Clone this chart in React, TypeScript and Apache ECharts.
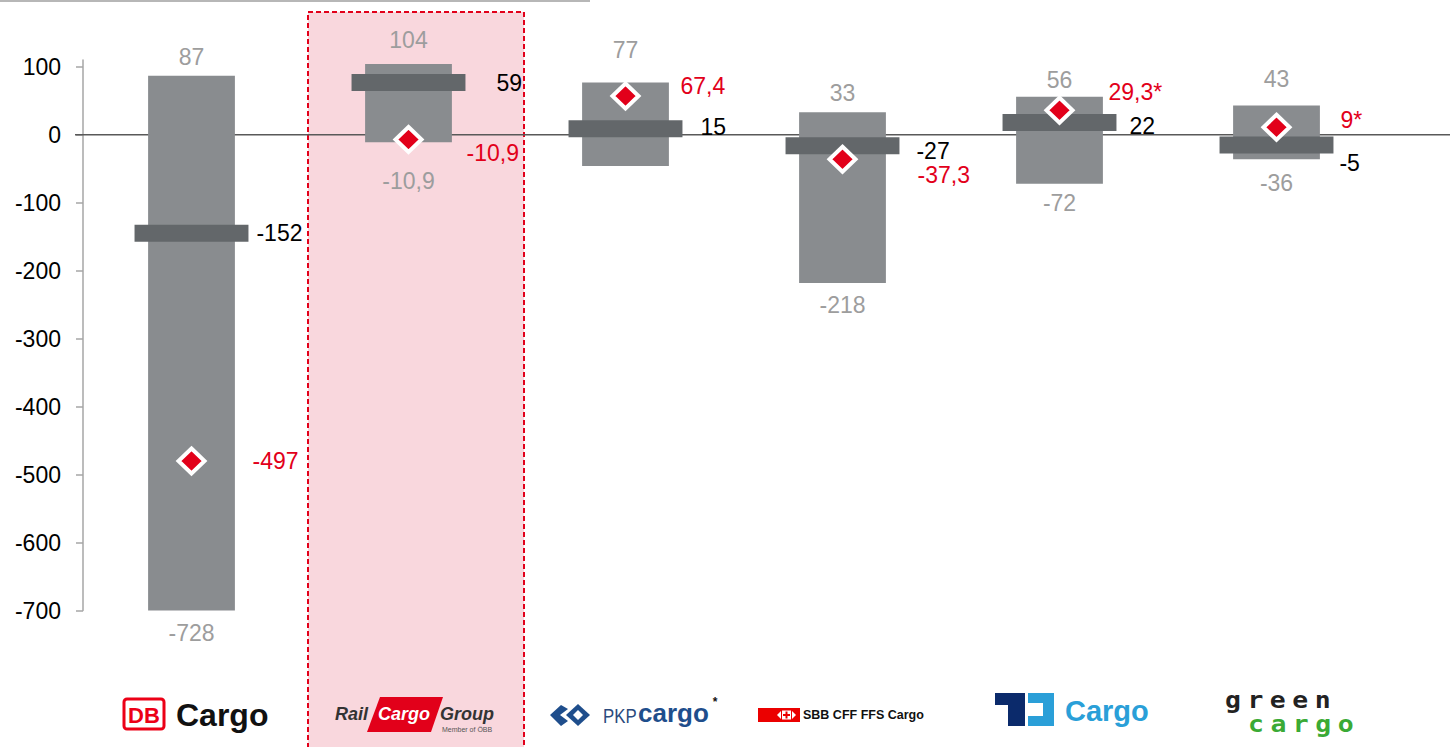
import React, { useEffect, useRef } from 'react';
import * as echarts from 'echarts';

// ---------- data ----------
const categories = ['DB Cargo', 'Rail Cargo Group', 'PKP Cargo', 'SBB CFF FFS Cargo', 'ČD Cargo', 'Green Cargo'];
const rangeHigh = [87, 104, 77, 33, 56, 43];
const rangeLow = [-728, -10.9, -46, -218, -72, -36];
const rangeHighLabels = ['87', '104', '77', '33', '56', '43'];
const rangeLowLabels = ['-728', '-10,9', '', '-218', '-72', '-36'];
const meanValues = [-145, 77, 9, -16, 18, -15];
const meanLabels = ['-152', '59', '15', '-27', '22', '-5'];
const markerValues = [-480, -7, 57, -36, 36, 11];
const markerLabels = ['-497', '-10,9', '67,4', '-37,3', '29,3*', '9*'];
const yTicks = [-700, -600, -500, -400, -300, -200, -100, 0, 100];

// ---------- label layout (pixel nudges) ----------
const highGap = [19, 24, 32, 19, 17, 27];
const lowGap = [22, 39, 0, 22, 19, 24];
const meanDx = [8, 31, 18, 17, 13, 6];
const meanDy = [0, 1, -2, 5, 3, 18];
const markerDx = [61, 58, 55, 75, 49, 64];
const markerDy = [0, 13, -10, 16, -18, -7];

const FONT = '"Liberation Sans", Arial, sans-serif';
const BAR = '#898c8f';
const MEAN = '#63676a';
const GREY_TXT = '#9d9d9d';
const RED = '#e2001a';
const Y_MIN = yTicks[0];
const Y_MAX = 110;

function txt(text: string, x: number, y: number, fill: string, size: number, align = 'center', weight = 'normal', style = 'normal', family = FONT) {
  return {
    type: 'text',
    x,
    y,
    style: {
      text,
      fill,
      fontSize: size,
      fontFamily: family,
      fontWeight: weight,
      fontStyle: style,
      align,
      textAlign: align,
      verticalAlign: 'middle',
      textVerticalAlign: 'middle',
    },
  };
}

function logos(): any[] {
  const els: any[] = [];
  // DB Cargo
  els.push({ type: 'rect', z: 1, shape: { x: 124, y: 699, width: 40, height: 30, r: 3 }, style: { fill: '#fff', stroke: '#ec0016', lineWidth: 3 } });
  els.push({ ...txt('DB', 144, 715, '#ec0016', 22, 'center', 'bold'), z: 1 });
  els.push({ ...txt('Cargo', 176, 715, '#111', 32, 'left', 'bold'), z: 1 });
  // Rail Cargo Group
  els.push({ type: 'polygon', z: 1, shape: { points: [[380, 697], [443, 697], [431, 732], [367, 732]] }, style: { fill: RED } });
  els.push({ ...txt('Rail', 335, 714, '#333', 18, 'left', 'bold', 'italic'), z: 1 });
  els.push({ ...txt('Cargo', 378, 714, '#fff', 18, 'left', 'bold', 'italic'), z: 1 });
  els.push({ ...txt('Group', 440, 714, '#333', 18, 'left', 'bold', 'italic'), z: 1 });
  els.push({ ...txt('Member of ÖBB', 442, 729, '#555', 7, 'left'), z: 1 });
  // PKP cargo
  const pkp = '#1f4e8c';
  els.push({ type: 'polygon', z: 1, shape: { points: [[550, 715], [561, 705], [568, 709], [560, 715], [568, 721], [561, 726]] }, style: { fill: pkp } });
  els.push({ type: 'polygon', z: 1, shape: { points: [[578, 704], [590, 715], [578, 726], [566, 715]] }, style: { fill: pkp } });
  els.push({ type: 'polygon', z: 1, shape: { points: [[578, 710], [583, 715], [578, 720], [573, 715]] }, style: { fill: '#fff' } });
  els.push({ ...txt('PKP', 603, 716, '#2b4a7d', 21, 'left'), scaleX: 0.8, z: 1 });
  els.push({ ...txt('cargo', 638, 713, pkp, 26, 'left', 'bold'), z: 1 });
  els.push({ ...txt('*', 715, 702, '#111', 12, 'center', 'bold'), z: 1 });
  // SBB
  els.push({ type: 'rect', z: 1, shape: { x: 758, y: 708, width: 42, height: 14 }, style: { fill: '#eb0000' } });
  els.push({ type: 'rect', z: 1, shape: { x: 782, y: 710.5, width: 9, height: 9 }, style: { fill: '#fff' } });
  els.push({ type: 'polygon', z: 1, shape: { points: [[777, 715], [781, 711], [781, 719]] }, style: { fill: '#fff' } });
  els.push({ type: 'polygon', z: 1, shape: { points: [[796, 715], [792, 711], [792, 719]] }, style: { fill: '#fff' } });
  els.push({ type: 'rect', z: 1, shape: { x: 785.5, y: 711.5, width: 2, height: 7 }, style: { fill: '#eb0000' } });
  els.push({ type: 'rect', z: 1, shape: { x: 783, y: 714, width: 7, height: 2 }, style: { fill: '#eb0000' } });
  els.push({ ...txt('SBB CFF FFS Cargo', 803, 715, '#111', 12.5, 'left', 'bold'), z: 1 });
  // CD Cargo
  els.push({ type: 'polygon', z: 1, shape: { points: [[995, 693], [1025, 693], [1025, 726], [1008, 726], [1008, 705], [995, 705]] }, style: { fill: '#0b2a6b' } });
  els.push({ type: 'polygon', z: 1, shape: { points: [[1028, 693], [1054, 693], [1054, 726], [1028, 726], [1028, 716], [1043, 716], [1043, 703], [1028, 703]] }, style: { fill: '#2a9fd8' } });
  els.push({ ...txt('Cargo', 1065, 711, '#2a9fd8', 29, 'left', 'bold'), z: 1 });
  // green cargo
  const mono = '"DejaVu Sans Mono", monospace';
  'green'.split('').forEach((ch, k) => els.push({ ...txt(ch, 1233 + k * 22.4, 700, '#222', 23, 'center', 'bold', 'normal', mono), scaleX: 1.15, z: 1 }));
  'cargo'.split('').forEach((ch, k) => els.push({ ...txt(ch, 1256 + k * 22.4, 724, '#3aaa35', 23, 'center', 'bold', 'normal', mono), scaleX: 1.15, z: 1 }));
  return els;
}

export default function App() {
  const ref = useRef<HTMLDivElement>(null);
  useEffect(() => {
    if (!ref.current) return;
    const chart = echarts.init(ref.current, undefined, { renderer: 'svg' });
    const option: any = {
      animation: false,
      backgroundColor: '#fff',
      grid: { left: 83, right: 65, top: 60, bottom: 136.5, containLabel: false },
      xAxis: {
        type: 'category',
        data: categories,
        boundaryGap: true,
        axisLine: { show: false },
        axisTick: { show: false },
        axisLabel: { show: false },
        splitLine: { show: false },
      },
      yAxis: {
        type: 'value',
        min: Y_MIN,
        max: Y_MAX,
        interval: 100,
        axisLine: { show: true, lineStyle: { color: '#a6a6a6', width: 1.5 } },
        axisTick: { show: true, length: 7, lineStyle: { color: '#a6a6a6', width: 1.5 }, customValues: yTicks },
        axisLabel: { customValues: yTicks, fontSize: 23, color: '#000', margin: 22, fontFamily: FONT },
        splitLine: { show: false },
      },
      series: [
        {
          type: 'custom',
          name: 'range',
          z: 3,
          clip: false,
          data: categories.map((c, i) => [i, rangeHigh[i], rangeLow[i]]),
          encode: { x: 0, y: [1, 2] },
          renderItem: (params: any, api: any) => {
            const i = params.dataIndex;
            const x = api.value(0);
            const hi = api.value(1);
            const lo = Math.max(api.value(2), Y_MIN);
            const pTop = api.coord([x, hi]);
            const pBot = api.coord([x, lo]);
            const bw = api.size([1, 0])[0] * 0.4;
            const children: any[] = [
              { type: 'rect', shape: { x: pTop[0] - bw / 2, y: pTop[1], width: bw, height: pBot[1] - pTop[1] }, style: { fill: BAR } },
              txt(rangeHighLabels[i], pTop[0], pTop[1] - highGap[i], GREY_TXT, 23),
            ];
            if (rangeLowLabels[i]) children.push(txt(rangeLowLabels[i], pTop[0], pBot[1] + lowGap[i], GREY_TXT, 23));
            return { type: 'group', children };
          },
        },
        {
          type: 'custom',
          name: 'mean',
          z: 4,
          clip: false,
          data: categories.map((c, i) => [i, meanValues[i]]),
          encode: { x: 0, y: 1 },
          renderItem: (params: any, api: any) => {
            const i = params.dataIndex;
            const p = api.coord([api.value(0), api.value(1)]);
            const w = api.size([1, 0])[0] * 0.525;
            const h = 17;
            return {
              type: 'group',
              children: [
                { type: 'rect', shape: { x: p[0] - w / 2, y: p[1] - h / 2, width: w, height: h }, style: { fill: MEAN } },
                txt(meanLabels[i], p[0] + w / 2 + meanDx[i], p[1] + meanDy[i], '#000', 23, 'left'),
              ],
            };
          },
        },
        {
          type: 'custom',
          name: 'marker',
          z: 5,
          clip: false,
          data: categories.map((c, i) => [i, markerValues[i]]),
          encode: { x: 0, y: 1 },
          renderItem: (params: any, api: any) => {
            const i = params.dataIndex;
            const p = api.coord([api.value(0), api.value(1)]);
            const hw = 13;
            const hh = 12.5;
            return {
              type: 'group',
              children: [
                {
                  type: 'polygon',
                  shape: { points: [[p[0], p[1] - hh], [p[0] + hw, p[1]], [p[0], p[1] + hh], [p[0] - hw, p[1]]] },
                  style: { fill: RED, stroke: '#fff', lineWidth: 4, lineJoin: 'miter' },
                },
                txt(markerLabels[i], p[0] + markerDx[i], p[1] + markerDy[i], RED, 23, 'left'),
              ],
            };
          },
        },
      ],
    };
    chart.setOption(option);
    const y0 = chart.convertToPixel({ yAxisIndex: 0 }, 0) as number;
    const graphic: any[] = [
      { type: 'rect', z: 0, shape: { x: 308, y: 12, width: 216, height: 760 }, style: { fill: '#f9d7dd', stroke: RED, lineWidth: 2, lineDash: [5, 3] } },
      { type: 'line', z: 1, shape: { x1: 0, y1: 1, x2: 590, y2: 1 }, style: { stroke: '#b7b7b7', lineWidth: 2 } },
      { type: 'line', z: 1, shape: { x1: 75, y1: y0, x2: 1450, y2: y0 }, style: { stroke: '#595959', lineWidth: 1.5 } },
      ...logos(),
    ];
    chart.setOption({ graphic });
    return () => chart.dispose();
  }, []);
  return <div ref={ref} style={{ position: 'fixed', left: 0, top: 0, width: 1450, height: 747, background: '#fff' }} />;
}
